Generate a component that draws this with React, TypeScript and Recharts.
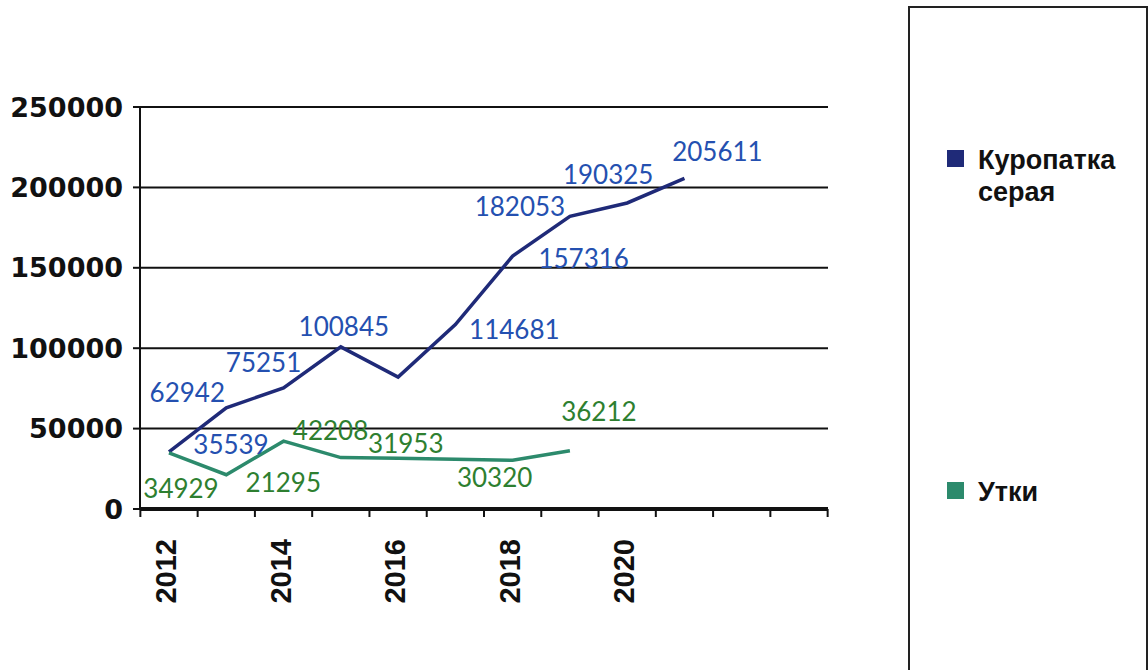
import {CartesianGrid, Legend, Line, LineChart, XAxis, YAxis} from 'recharts';

const years = ['2012', '2013', '2014', '2015', '2016', '2017', '2018', '2019', '2020', '2021', '', ' '];
const partridge = [35539, 62942, 75251, 100845, 82000, 114681, 157316, 182053, 190325, 205611, null, null];
const ducks = [34929, 21295, 42208, 31953, 31500, 31000, 30320, 36212, null, null, null, null];
const yTicks = [0, 50000, 100000, 150000, 200000, 250000];

const CHART_W = 1148;
const CHART_H = 670;
const PLOT_LEFT = 140;
const PLOT_RIGHT = 828;
const PLOT_TOP = 107;
const PLOT_BOTTOM = 509;
const X_PAD = 29;
const STEP = (PLOT_RIGHT - PLOT_LEFT - 2 * X_PAD) / (years.length - 1);

const BLUE_LINE = '#1f2a78';
const BLUE_TEXT = '#2450b0';
const GREEN_LINE = '#2c8a6c';
const GREEN_TEXT = '#2e7f30';

// label offsets from the point, null = no label (like the original)
const blueOffsets: ([number, number] | null)[] = [
    [62, -8], [-39, -16], [-20, -26], [3, -21], null,
    [59, 4], [71, 2], [-50, -10], [-19, -29], [33, -27], null, null,
];
const greenOffsets: ([number, number] | null)[] = [
    [12, 35], [57, 7], [47, -11], [65, -15], null,
    null, [-18, 17], [29, -40], null, null, null, null,
];

const data = years.map((year, i) => ({
    year,
    partridge: partridge[i],
    ducks: ducks[i],
}));

function makeLabel(offsets: ([number, number] | null)[], color: string) {
    return (props: any) => {
        const {x, y, value, index} = props;
        const off = offsets[index];
        if (!off || value == null || y == null) return null;
        return (
            <text
                key={`lbl-${index}`}
                x={x + off[0]}
                y={y + off[1]}
                textAnchor="middle"
                dominantBaseline="central"
                fill={color}
                style={{fontFamily: 'Lato, sans-serif', fontSize: 26}}
            >
                {value}
            </text>
        );
    };
}

function YearTick(props: any) {
    const {x, y, payload, index} = props;
    const last = index === years.length - 1;
    return (
        <g>
            <line x1={x - STEP / 2} x2={x - STEP / 2} y1={y} y2={y + 8} stroke="#111" strokeWidth={2}/>
            {last && (
                <line x1={x + STEP / 2} x2={x + STEP / 2} y1={y} y2={y + 8} stroke="#111" strokeWidth={2}/>
            )}
            {index % 2 === 0 && (
                <text
                    x={x - 3}
                    y={y + 30}
                    transform={`rotate(-90, ${x - 3}, ${y + 30})`}
                    textAnchor="end"
                    dominantBaseline="central"
                    fill="#111"
                    style={{fontFamily: '"Liberation Sans", Arial, sans-serif', fontWeight: 700, fontSize: 29}}
                >
                    {payload.value}
                </text>
            )}
        </g>
    );
}

function LegendBox(props: any) {
    const {payload = []} = props;
    const rows = [136, 468];
    return (
        <div
            style={{
                position: 'relative',
                width: 236,
                height: 700,
                border: '2px solid #222',
                background: '#fff',
                fontFamily: '"Liberation Sans", Arial, sans-serif',
                fontWeight: 700,
                fontSize: 27,
                color: '#111',
            }}
        >
            {payload.map((entry: any, i: number) => (
                <div
                    key={entry.value}
                    style={{position: 'absolute', left: 37, top: rows[i], display: 'flex'}}
                >
                    <span
                        style={{
                            width: 17,
                            height: 17,
                            marginTop: 6,
                            marginRight: 14,
                            background: entry.color,
                            flex: 'none',
                        }}
                    />
                    <span style={{lineHeight: '32px', width: 160}}>
                        {entry.value.split(' ').map((w: string) => (
                            <div key={w}>{w}</div>
                        ))}
                    </span>
                </div>
            ))}
        </div>
    );
}

export default function App() {
    return (
        <div style={{position: 'absolute', left: 0, top: 0, width: CHART_W, height: CHART_H, background: '#fff', overflow: 'hidden'}}>
            <LineChart
                width={CHART_W}
                height={CHART_H}
                data={data}
                margin={{top: PLOT_TOP, right: CHART_W - PLOT_RIGHT, left: 10, bottom: CHART_H - PLOT_BOTTOM - 120}}
            >
                <CartesianGrid horizontal vertical={false} stroke="#111" strokeWidth={2}/>
                <XAxis
                    dataKey="year"
                    interval={0}
                    padding={{left: X_PAD, right: X_PAD}}
                    height={120}
                    tickLine={false}
                    tickSize={0}
                    tickMargin={0}
                    axisLine={{stroke: '#111', strokeWidth: 4}}
                    tick={<YearTick/>}
                />
                <YAxis
                    width={PLOT_LEFT - 10}
                    domain={[0, 250000]}
                    ticks={yTicks}
                    interval={0}
                    tickSize={7}
                    tickMargin={10}
                    axisLine={{stroke: '#111', strokeWidth: 2}}
                    tickLine={{stroke: '#111', strokeWidth: 2}}
                    tick={{fill: '#111', fontFamily: '"DejaVu Sans", sans-serif', fontWeight: 700, fontSize: 27}}
                />
                <Legend
                    layout="vertical"
                    align="center"
                    verticalAlign="middle"
                    content={<LegendBox/>}
                    wrapperStyle={{left: 908, top: 6, width: 240, height: 704}}
                />
                <Line
                    type="linear"
                    dataKey="partridge"
                    name="Куропатка серая"
                    stroke={BLUE_LINE}
                    strokeWidth={3.5}
                    dot={false}
                    activeDot={false}
                    legendType="square"
                    isAnimationActive={false}
                    label={makeLabel(blueOffsets, BLUE_TEXT)}
                />
                <Line
                    type="linear"
                    dataKey="ducks"
                    name="Утки"
                    stroke={GREEN_LINE}
                    strokeWidth={3.5}
                    dot={false}
                    activeDot={false}
                    legendType="square"
                    isAnimationActive={false}
                    label={makeLabel(greenOffsets, GREEN_TEXT)}
                />
            </LineChart>
        </div>
    );
}
